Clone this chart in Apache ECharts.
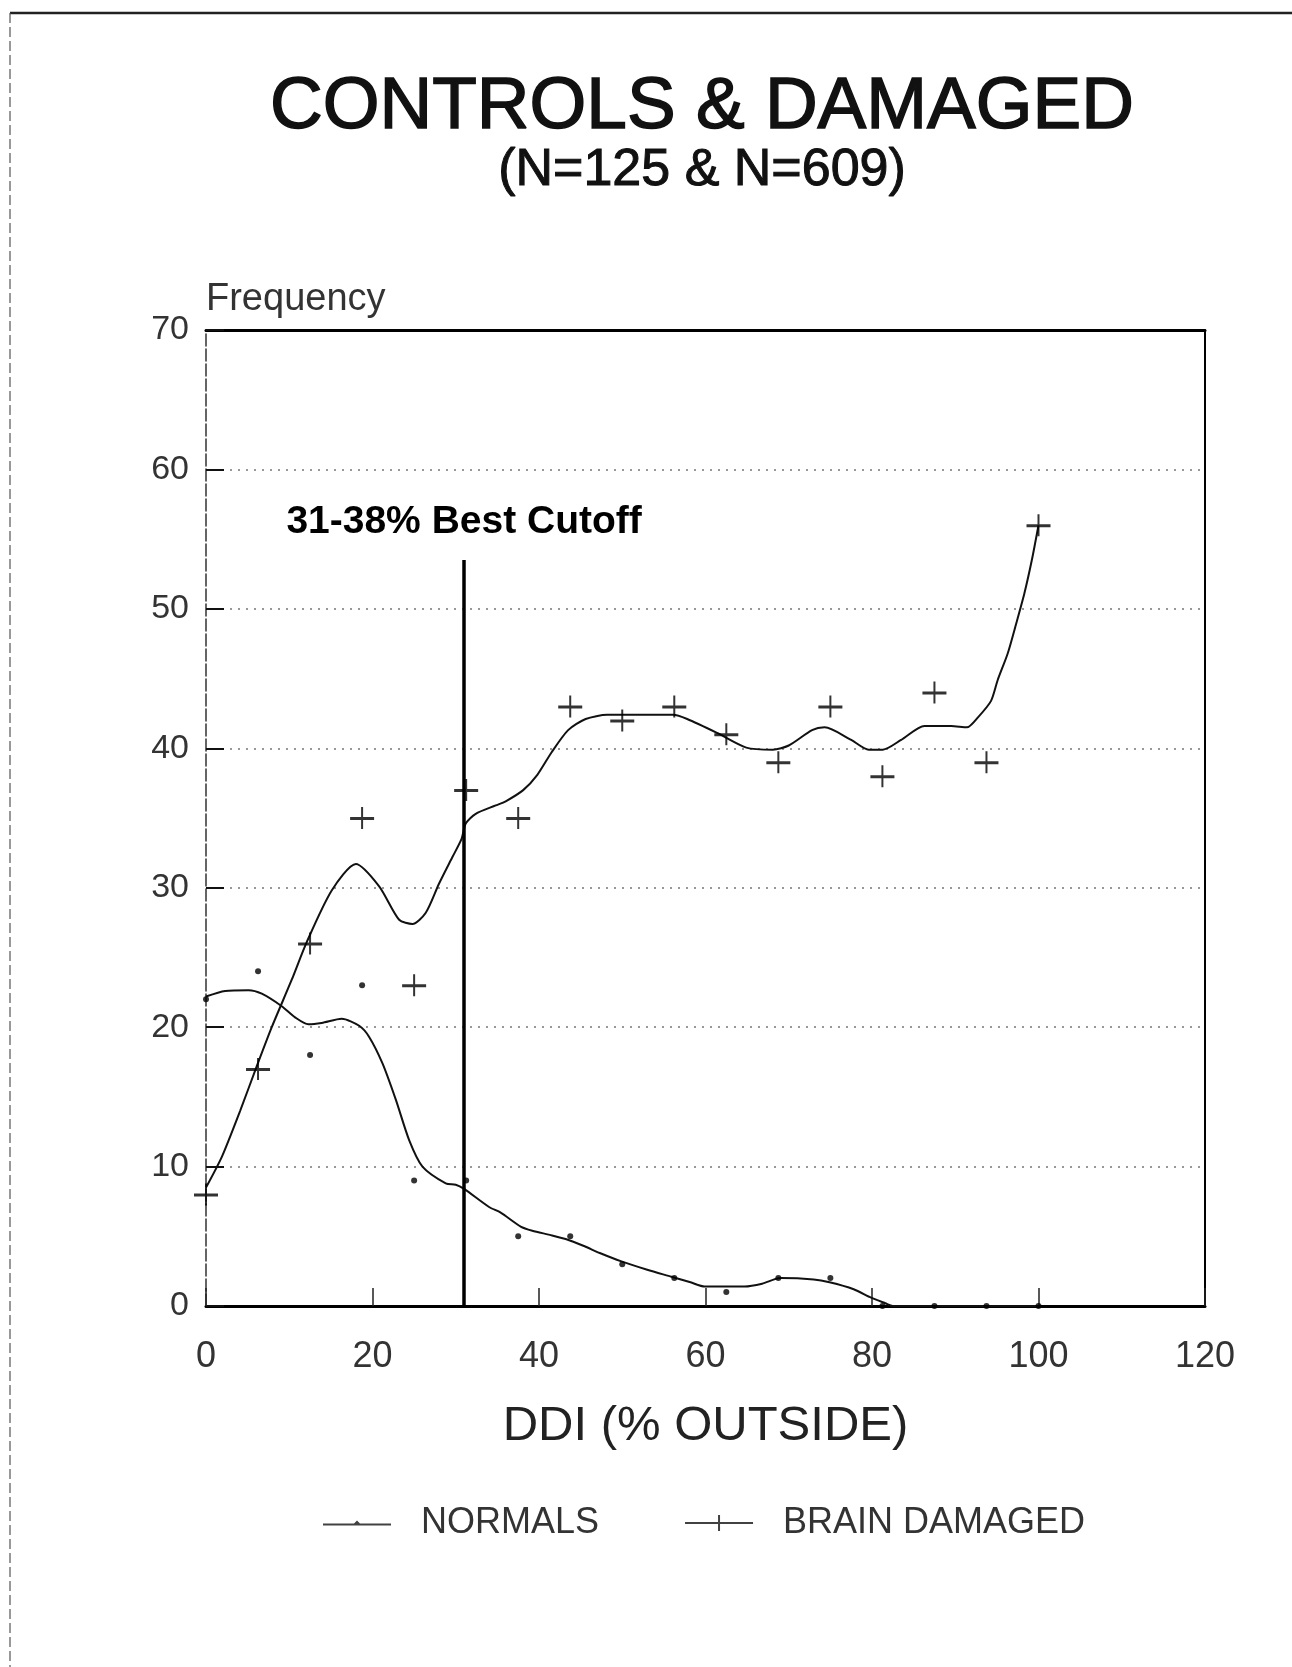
<!DOCTYPE html>
<html>
<head>
<meta charset="utf-8">
<script src="https://cdn.jsdelivr.net/npm/echarts@6/dist/echarts.min.js"></script>
<style>
  html, body { margin: 0; padding: 0; background: #fff; }
  #chart { width: 1292px; height: 1667px; }
</style>
</head>
<body>
<div id="chart"></div>
<script>
// ---- data ----
const ddiBins      = [0, 6.25, 12.5, 18.75, 25, 31.25, 37.5, 43.75, 50, 56.25, 62.5, 68.75, 75, 81.25, 87.5, 93.75, 100];
const normals      = [22, 24, 18, 23, 9, 9, 5, 5, 3, 2, 1, 2, 2, 0, 0, 0, 0];
const brainDamaged = [8, 17, 26, 35, 23, 37, 35, 43, 42, 43, 41, 39, 43, 38, 44, 39, 56];

// smoothed fit curves
const normalsFitX = [0, 2.3, 5.1, 6.7, 9.1, 10.7, 12.3, 13.9, 16.3, 18.4, 19.6, 21.2, 22.8, 24.4, 26.0, 28.8, 30.0, 31.0, 34.0, 35.4, 37.8, 39.2, 41.3, 43.2, 45.4, 47.3, 49.9, 53.0, 55.9, 58.2, 59.9, 64.7, 66.8, 69.0, 73.0, 74.9, 77.8, 79.9, 81.6, 82.5, 100];
const normalsFitY = [22.2, 22.6, 22.65, 22.4, 21.5, 20.7, 20.2, 20.3, 20.6, 20.1, 19.3, 17.4, 14.8, 11.9, 10.0, 8.8, 8.7, 8.4, 7.1, 6.7, 5.7, 5.4, 5.1, 4.8, 4.3, 3.8, 3.2, 2.6, 2.1, 1.7, 1.4, 1.4, 1.6, 2.0, 1.9, 1.7, 1.2, 0.6, 0.2, 0, 0];
const brainFitX = [0, 1.9, 4.1, 6.1, 7.9, 10.3, 12.1, 15.1, 18.0, 20.8, 23.2, 24.8, 26.4, 28.0, 29.6, 30.7, 31.2, 32.4, 34.8, 36.0, 38.1, 39.8, 41.5, 43.5, 45.6, 48.2, 51.0, 56.1, 57.8, 61.4, 64.9, 68.1, 70.0, 72.8, 74.3, 77.5, 79.6, 81.3, 83.5, 86.3, 89.5, 91.4, 92.7, 94.3, 95.1, 96.3, 97.3, 98.3, 99.2, 100];
const brainFitY = [8.5, 10.7, 14.0, 17.2, 20.0, 23.4, 26.1, 29.8, 31.7, 30.1, 27.7, 27.4, 28.2, 30.3, 32.2, 33.5, 34.6, 35.3, 35.9, 36.2, 37.0, 38.1, 39.7, 41.3, 42.1, 42.4, 42.4, 42.4, 42.1, 41.1, 40.05, 39.9, 40.2, 41.3, 41.5, 40.6, 39.9, 39.9, 40.6, 41.6, 41.6, 41.5, 42.2, 43.4, 44.9, 46.8, 48.9, 51.1, 53.5, 56];

const cutoffX = 31;
const cutoffTop = 53.5;
const cutoffLabel = '31-38% Best Cutoff';

const titleText = 'CONTROLS & DAMAGED';
const subtitleText = '(N=125 & N=609)';
const xName = 'DDI (% OUTSIDE)';
const yName = 'Frequency';
const seriesNames = ['NORMALS', 'BRAIN DAMAGED'];

// ---- build ----
const zip = (xs, ys) => xs.map((x, i) => [x, ys[i]]);
const crossPath = 'path://M11,0 H13 V10 H24 V13 H13 V22 H11 V13 H0 V10 H11 Z';
const legendNormalsIcon = 'path://M0,7 H31 L34,4 L37,7 H68 V9 H0 Z';
const legendBrainIcon = 'path://M0,7 H33 V0 H35 V7 H68 V9 H35 V16 H33 V9 H0 Z';

const baseFont = "'Liberation Sans', Arial, sans-serif";
const chart = echarts.init(document.getElementById('chart'), null, { renderer: 'canvas' });

chart.setOption({
  backgroundColor: '#ffffff',
  animation: false,
  title: [
    {
      text: titleText, left: 697, top: 66, textAlign: 'center',
      textStyle: { fontFamily: baseFont, fontSize: 73, fontWeight: 'normal', color: '#111',
                   textBorderColor: '#111', textBorderWidth: 1.5 }
    },
    {
      text: subtitleText, left: 697, top: 140, textAlign: 'center',
      textStyle: { fontFamily: baseFont, fontSize: 52, fontWeight: 'normal', color: '#111',
                   textBorderColor: '#111', textBorderWidth: 1 }
    }
  ],
  graphic: [
    { type: 'line', shape: { x1: 10, y1: 13, x2: 1292, y2: 13 }, style: { stroke: '#222', lineWidth: 2.5 } },
    { type: 'line', shape: { x1: 10, y1: 13, x2: 10, y2: 1667 }, style: { stroke: '#555', lineWidth: 1.2, lineDash: [10, 4] } }
  ],
  legend: {
    data: [
      { name: seriesNames[0], icon: legendNormalsIcon },
      { name: seriesNames[1], icon: legendBrainIcon }
    ],
    left: 318, top: 1498,
    itemWidth: 68, itemHeight: 16, itemGap: 86,
    selectedMode: false,
    textStyle: { fontFamily: baseFont, fontSize: 36, color: '#333', padding: [0, 0, 0, 25], lineHeight: 40 },
    itemStyle: { color: '#111' }
  },
  grid: { left: 206, right: 87, top: 330, bottom: 361, containLabel: false },
  xAxis: [
    {
      type: 'value', min: 0, max: 120, interval: 20,
      name: xName, nameLocation: 'middle', nameGap: 96,
      nameTextStyle: { fontFamily: baseFont, fontSize: 49, color: '#222' },
      axisLine: { show: true, lineStyle: { color: '#000', width: 3 } },
      axisTick: { show: true, inside: true, length: 18, lineStyle: { color: '#222', width: 1.5 } },
      axisLabel: { margin: 33, fontFamily: baseFont, fontSize: 36, color: '#333' },
      splitLine: { show: false }
    },
    {
      type: 'value', min: 0, max: 120, position: 'top',
      axisLine: { show: true, onZero: false, lineStyle: { color: '#000', width: 3 } },
      axisTick: { show: false }, axisLabel: { show: false }, splitLine: { show: false }
    }
  ],
  yAxis: [
    {
      type: 'value', min: 0, max: 70, interval: 10,
      name: yName, nameLocation: 'end', nameGap: 30,
      nameTextStyle: { fontFamily: baseFont, fontSize: 38, color: '#333', align: 'left', verticalAlign: 'middle' },
      axisLine: { show: true, lineStyle: { color: '#333', width: 1.5, type: [12, 3] } },
      axisTick: { show: true, inside: true, length: 18, lineStyle: { color: '#111', width: 2 } },
      axisLabel: { margin: 17, fontFamily: baseFont, fontSize: 34, color: '#333' },
      splitLine: { show: true, lineStyle: { color: '#777', width: 1.5, type: [2, 6] } }
    },
    {
      type: 'value', min: 0, max: 70, position: 'right',
      axisLine: { show: true, onZero: false, lineStyle: { color: '#000', width: 2 } },
      axisTick: { show: false }, axisLabel: { show: false }, splitLine: { show: false }
    }
  ],
  series: [
    {
      name: 'normals fit', type: 'line', data: zip(normalsFitX, normalsFitY),
      showSymbol: false, smooth: 0.25, lineStyle: { color: '#111', width: 2 }, z: 3
    },
    {
      name: 'brain fit', type: 'line', data: zip(brainFitX, brainFitY),
      showSymbol: false, smooth: 0.25, lineStyle: { color: '#111', width: 2 }, z: 3
    },
    {
      name: seriesNames[0], type: 'scatter', data: zip(ddiBins, normals),
      symbol: 'circle', symbolSize: 6, itemStyle: { color: '#000' }, clip: false, z: 4
    },
    {
      name: seriesNames[1], type: 'scatter', data: zip(ddiBins, brainDamaged),
      symbol: crossPath, symbolSize: [24, 22], itemStyle: { color: '#000' }, clip: false, z: 4
    },
    {
      name: 'cutoff', type: 'line', data: [],
      markLine: {
        silent: true, symbol: ['none', 'none'], animation: false,
        lineStyle: { color: '#000', width: 3.5, type: 'solid' },
        label: { show: true, position: 'end', formatter: cutoffLabel, distance: 18,
                 fontFamily: baseFont, fontSize: 39, fontWeight: 'bold', color: '#000' },
        data: [[{ coord: [cutoffX, 0] }, { coord: [cutoffX, cutoffTop] }]]
      }
    }
  ]
});
</script>
</body>
</html>
